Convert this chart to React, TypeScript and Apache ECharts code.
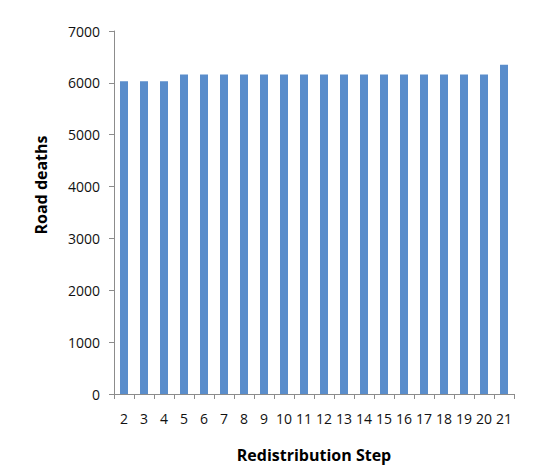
import React, { useEffect, useRef } from "react";
import * as echarts from "echarts";

const steps = ["2","3","4","5","6","7","8","9","10","11","12","13","14","15","16","17","18","19","20","21"];
const roadDeaths = [6030, 6030, 6030, 6160, 6160, 6160, 6160, 6160, 6160, 6160, 6160, 6160, 6160, 6160, 6160, 6160, 6160, 6160, 6160, 6350];

export default function App() {
  const ref = useRef<HTMLDivElement>(null);
  useEffect(() => {
    if (!ref.current) return;
    const chart = echarts.init(ref.current, null, { renderer: "svg" });
    const font = "'Open Sans', 'Liberation Sans', sans-serif";
    chart.setOption({
      animation: false,
      grid: { left: 106, right: 33, top: 23, bottom: 74, containLabel: false },
      xAxis: {
        type: "category",
        data: steps,
        name: "Redistribution Step",
        nameLocation: "middle",
        nameGap: 53,
        nameTextStyle: { fontFamily: font, fontSize: 16, fontWeight: "bold", color: "#000" },
        axisLine: { lineStyle: { color: "#8c8c8c", width: 1 } },
        axisTick: { show: true, length: 5, lineStyle: { color: "#8c8c8c" } },
        axisLabel: { fontFamily: font, fontSize: 14, color: "#111", margin: 17, interval: 0 },
      },
      yAxis: {
        type: "value",
        min: 0,
        max: 7000,
        interval: 1000,
        axisLine: { show: true, lineStyle: { color: "#8c8c8c", width: 1 } },
        axisTick: { show: true, length: 5, lineStyle: { color: "#8c8c8c" } },
        axisLabel: { fontFamily: font, fontSize: 14, color: "#111", margin: 14, formatter: (v: number) => String(v) },
        splitLine: { show: false },
      },
      graphic: [
        {
          type: "text",
          x: 33,
          y: 177,
          rotation: Math.PI / 2,
          style: {
            text: "Road deaths",
            fontFamily: font,
            fontSize: 16,
            fontWeight: "bold",
            fill: "#000",
            textAlign: "center",
            textVerticalAlign: "middle",
          },
        },
      ],
      series: [
        {
          type: "bar",
          data: roadDeaths,
          barCategoryGap: "60%",
          itemStyle: { color: "#5A8DCB" },
        },
      ],
    });
    return () => chart.dispose();
  }, []);
  return <div ref={ref} style={{ width: 539, height: 460 }} />;
}
